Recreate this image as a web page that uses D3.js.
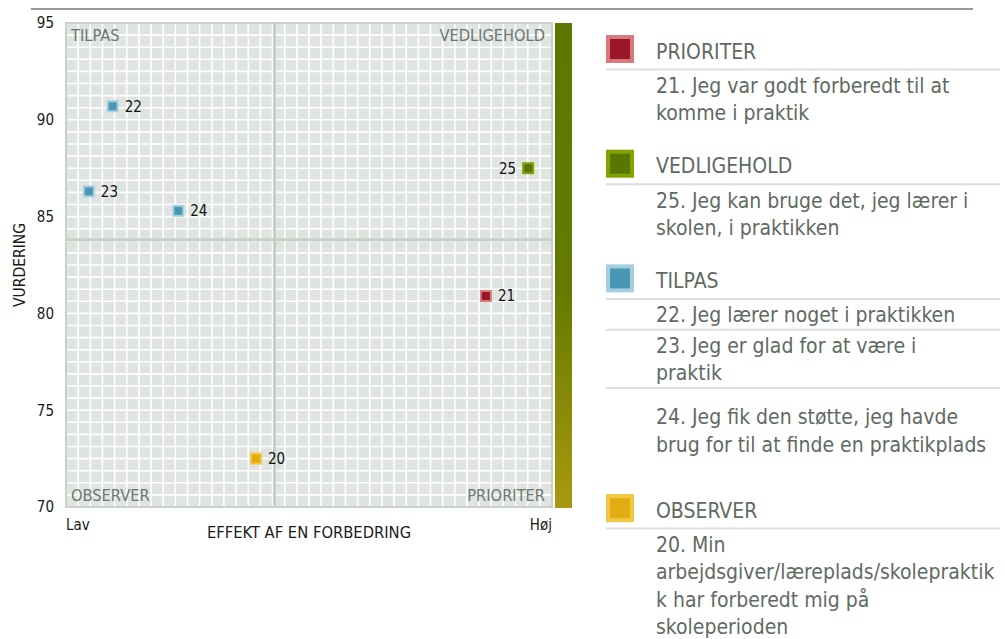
<!DOCTYPE html>
<html>
<head>
<meta charset="utf-8">
<script src="https://cdn.jsdelivr.net/npm/d3@7"></script>
<style>
  body { margin: 0; background: #fff; }
  svg { display: block; font-family: "DejaVu Sans Condensed", "DejaVu Sans", sans-serif; font-stretch: condensed; }
</style>
</head>
<body>
<svg width="1005" height="639"></svg>
<script>
// quadrant categories, in legend order
const categories = ['PRIORITER', 'VEDLIGEHOLD', 'TILPAS', 'OBSERVER'];

// points
const pointIds = [20, 21, 22, 23, 24, 25];
const pointCategory = ['OBSERVER', 'PRIORITER', 'TILPAS', 'TILPAS', 'TILPAS', 'VEDLIGEHOLD'];
const effectValues = [39.1, 86.4, 9.6, 4.7, 23.1, 95.1];   // x: Lav .. Høj
const ratingValues = [72.5, 80.9, 90.7, 86.3, 85.3, 87.5]; // y: VURDERING

// question texts (lines as wrapped in the legend)
const itemTexts = {
  20: ['20. Min', 'arbejdsgiver/læreplads/skolepraktik', 'k har forberedt mig på', 'skoleperioden'],
  21: ['21. Jeg var godt forberedt til at', 'komme i praktik'],
  22: ['22. Jeg lærer noget i praktikken'],
  23: ['23. Jeg er glad for at være i', 'praktik'],
  24: ['24. Jeg fik den støtte, jeg havde', 'brug for til at finde en praktikplads'],
  25: ['25. Jeg kan bruge det, jeg lærer i', 'skolen, i praktikken']
};

const yTicks = [70, 75, 80, 85, 90, 95];
const xEndLabels = ['Lav', 'Høj'];
const xTitle = 'EFFEKT AF EN FORBEDRING';
const yTitle = 'VURDERING';
const effectSplit = 42.9;
const ratingSplit = 83.8;

// styles
const fills = { PRIORITER: '#9b1528', VEDLIGEHOLD: '#5b7600', TILPAS: '#4897b5', OBSERVER: '#e0ab13' };
const borders = { PRIORITER: '#d77a7b', VEDLIGEHOLD: '#80a300', TILPAS: '#a5cfdf', OBSERVER: '#f2c744' };

const svg = d3.select('svg');
const plot = { left: 66, top: 23, right: 552, bottom: 507 };

const x = d3.scaleLinear().domain([0, 100]).range([plot.left, plot.right]);
const y = d3.scaleLinear().domain([70, 95]).range([plot.bottom, plot.top]);

// top rule
svg.append('line')
  .attr('x1', 31).attr('x2', 973).attr('y1', 9).attr('y2', 9)
  .attr('stroke', '#747774').attr('stroke-width', 1.6);

// plot background + border
svg.append('rect')
  .attr('x', plot.left).attr('y', plot.top)
  .attr('width', plot.right - plot.left).attr('height', plot.bottom - plot.top)
  .attr('fill', '#dfe4e0').attr('stroke', '#c8d2c8').attr('stroke-width', 2);

// fine grid (40 x 40)
const g = svg.append('g');
const gx = d3.scaleLinear().domain([0, 40]).range([plot.left, plot.right]);
const gy = d3.scaleLinear().domain([0, 40]).range([plot.top, plot.bottom]);
g.selectAll('.gv').data(d3.range(1, 40)).enter().append('line')
  .attr('x1', d => gx(d)).attr('x2', d => gx(d))
  .attr('y1', plot.top + 1).attr('y2', plot.bottom - 1)
  .attr('stroke', '#fff').attr('stroke-width', 1.6);
g.selectAll('.gh').data(d3.range(1, 40)).enter().append('line')
  .attr('y1', d => gy(d)).attr('y2', d => gy(d))
  .attr('x1', plot.left + 1).attr('x2', plot.right - 1)
  .attr('stroke', '#fff').attr('stroke-width', 1.6);

// quadrant dividers
svg.append('line')
  .attr('x1', x(effectSplit)).attr('x2', x(effectSplit))
  .attr('y1', plot.top).attr('y2', plot.bottom)
  .attr('stroke', '#c6d0c6').attr('stroke-width', 3);
svg.append('line')
  .attr('y1', y(ratingSplit)).attr('y2', y(ratingSplit))
  .attr('x1', plot.left).attr('x2', plot.right)
  .attr('stroke', '#c6d0c6').attr('stroke-width', 3);

// quadrant names
const qColor = '#6b7770';
const quadrants = [
  { t: 'TILPAS', x: plot.left + 5, y: plot.top + 18, a: 'start' },
  { t: 'VEDLIGEHOLD', x: plot.right - 7, y: plot.top + 18, a: 'end' },
  { t: 'OBSERVER', x: plot.left + 5, y: plot.bottom - 6, a: 'start' },
  { t: 'PRIORITER', x: plot.right - 7, y: plot.bottom - 6, a: 'end' }
];
svg.selectAll('.q').data(quadrants).enter().append('text')
  .attr('x', d => d.x).attr('y', d => d.y)
  .attr('text-anchor', d => d.a)
  .attr('font-size', 16.3).attr('fill', qColor)
  .text(d => d.t);

// colour bar
const defs = svg.append('defs');
const grad = defs.append('linearGradient').attr('id', 'bar').attr('x1', 0).attr('x2', 0).attr('y1', 0).attr('y2', 1);
grad.append('stop').attr('offset', '0%').attr('stop-color', '#5d7700');
grad.append('stop').attr('offset', '55%').attr('stop-color', '#647a00');
grad.append('stop').attr('offset', '100%').attr('stop-color', '#a9990f');
svg.append('rect')
  .attr('x', 555).attr('y', plot.top).attr('width', 17).attr('height', plot.bottom - plot.top + 1)
  .attr('fill', 'url(#bar)');

// y axis
const yAxis = svg.append('g')
  .attr('transform', 'translate(' + (plot.left - 12) + ',0)')
  .call(d3.axisLeft(y).tickValues(yTicks).tickSize(0).tickPadding(0));
yAxis.select('.domain').remove();
yAxis.attr('font-family', null).attr('font-size', null);
yAxis.selectAll('text').attr('font-size', 15).attr('fill', '#1a1a1a');

svg.append('text')
  .attr('transform', 'translate(25,' + ((plot.top + plot.bottom) / 2) + ') rotate(-90)')
  .attr('text-anchor', 'middle').attr('font-size', 15.5).attr('fill', '#1a1a1a')
  .text(yTitle);

// x labels
svg.append('text').attr('x', x(0)).attr('y', 530).attr('font-size', 15).attr('fill', '#1a1a1a').text(xEndLabels[0]);
svg.append('text').attr('x', x(100)).attr('y', 530).attr('text-anchor', 'end').attr('font-size', 15).attr('fill', '#1a1a1a').text(xEndLabels[1]);
svg.append('text').attr('x', (plot.left + plot.right) / 2).attr('y', 538)
  .attr('text-anchor', 'middle').attr('font-size', 16.4).attr('fill', '#1a1a1a').text(xTitle);

// points
const points = pointIds.map((id, i) => ({ id: id, cat: pointCategory[i], ex: effectValues[i], r: ratingValues[i] }));
const pg = svg.append('g');
pg.selectAll('rect').data(points).enter().append('rect')
  .attr('x', d => x(d.ex) - 5).attr('y', d => y(d.r) - 5)
  .attr('width', 10).attr('height', 10)
  .attr('fill', d => fills[d.cat]).attr('stroke', d => borders[d.cat]).attr('stroke-width', 2);
pg.selectAll('text').data(points).enter().append('text')
  .attr('x', d => x(d.ex) > plot.right - 50 ? x(d.ex) - 12 : x(d.ex) + 12)
  .attr('y', d => y(d.r))
  .attr('dy', '0.36em')
  .attr('text-anchor', d => x(d.ex) > plot.right - 50 ? 'end' : 'start')
  .attr('font-size', 15).attr('fill', '#111')
  .text(d => d.id);

// legend
const lg = svg.append('g');
const lx = 606, tx = 656, lineH = 27.4, sepRight = 1000, legSize = 21;
const legColor = '#5f6a63';
const extraPad = { 24: 13 }; // item 24 sits in a taller row
let cy = 35;
categories.forEach(cat => {
  lg.append('rect')
    .attr('x', lx + 2).attr('y', cy + 2).attr('width', 24).attr('height', 24)
    .attr('fill', fills[cat]).attr('stroke', borders[cat]).attr('stroke-width', 4);
  lg.append('text').attr('x', tx).attr('y', cy + 23.5).attr('font-size', legSize).attr('fill', legColor).text(cat);
  let sy = cy + 34.5;
  lg.append('line').attr('x1', lx).attr('x2', sepRight).attr('y1', sy).attr('y2', sy)
    .attr('stroke', '#dedede').attr('stroke-width', 2);
  const ids = pointIds.filter((id, i) => pointCategory[i] === cat);
  let by = sy;
  ids.forEach((id, k) => {
    if (k > 0) {
      sy = by + 7.5;
      lg.append('line').attr('x1', lx).attr('x2', sepRight).attr('y1', sy).attr('y2', sy)
        .attr('stroke', '#dedede').attr('stroke-width', 2);
    }
    const pad = extraPad[id] || 0;
    by = sy + 23.3 + pad;
    itemTexts[id].forEach((ln, j) => {
      lg.append('text').attr('x', tx).attr('y', by + j * lineH)
        .attr('font-size', legSize).attr('fill', legColor).text(ln);
    });
    by = by + (itemTexts[id].length - 1) * lineH + pad;
  });
  cy = by + 29.5;
});
</script>
</body>
</html>
